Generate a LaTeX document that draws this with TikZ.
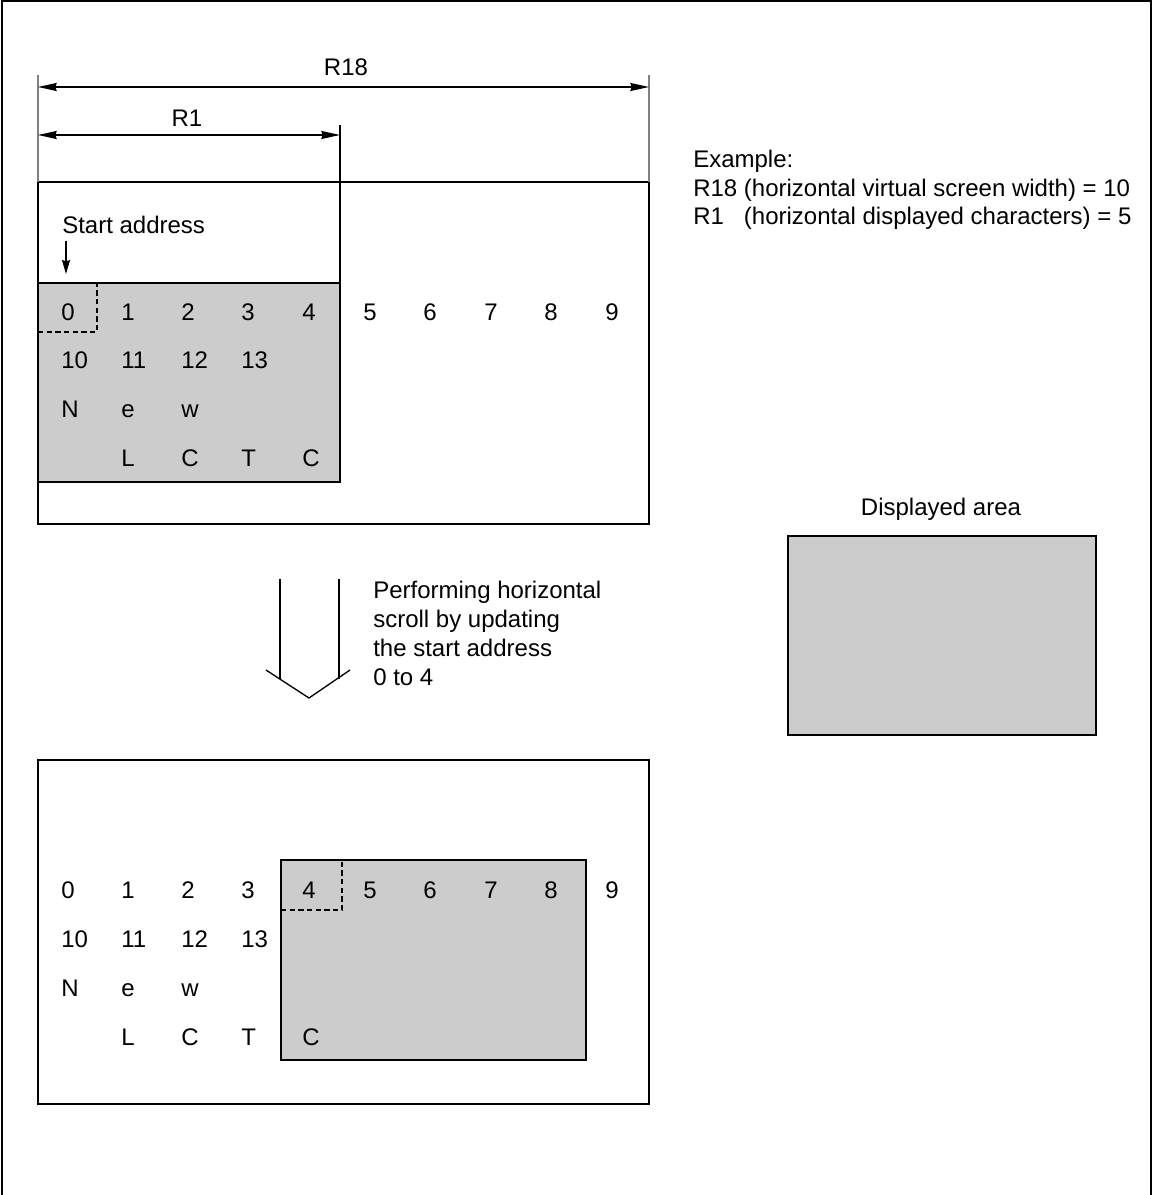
\documentclass[tikz,border=0pt]{standalone}
\usepackage{fontspec}
\setmainfont{Liberation Sans}
\usetikzlibrary{arrows.meta, positioning}
\colorlet{areagray}{black!20}

\begin{document}
\begin{tikzpicture}[x=0.75pt, y={(0pt,-0.75pt)},
  font=\fontsize{18}{21}\selectfont,
  frame/.style={line width=1pt, draw=black},
  extline/.style={line width=1.2pt, draw=black!50},
  dashline/.style={line width=1pt, dash pattern=on 4pt off 2.5pt},
  dimarrow/.style={line width=1pt, arrows={Stealth[length=14pt,width=6pt,inset=1pt]-Stealth[length=14pt,width=6pt,inset=1pt]}},
  ptrarrow/.style={line width=1pt, arrows={-Stealth[length=10.5pt,width=6pt,inset=1pt]}},
  cell/.style={anchor=base west, inner sep=0pt},
  txt/.style={anchor=base west, inner sep=0pt}]
  \useasboundingbox (0,0) rectangle (1158,1195);
  % outer frame, open at the bottom
  \draw[line width=1.6pt] (2,1195) -- (2,1) -- (1151,1) -- (1151,1195);

  % virtual screen before the scroll
  \draw[frame] (38,182) rectangle (649,524);
  \draw[frame, fill=areagray] (38,283) rectangle (340,482);
  \draw[dashline] (38,332) -| (97,283);
  \coordinate (ext18l) at (38,75);
  \coordinate (ext18r) at (649,75);
  \coordinate (ext1r) at (340,125);
  \draw[extline] (ext18l) -- (38,182);
  \draw[extline] (ext18r) -- (649,182);
  \draw[frame] (ext1r) -- (340,283);
  \coordinate (dim18l) at (38,87);
  \coordinate (dim18r) at (649,87);
  \coordinate (dim1l) at (38,135);
  \coordinate (dim1r) at (340,135);
  \draw[dimarrow] (dim18l) -- (dim18r);
  \draw[dimarrow] (dim1l) -- (dim1r);
  \node[anchor=base, inner sep=0pt] (r18) at (346,76) {R18};
  \node[anchor=base, inner sep=0pt] (r1) at (187,127) {R1};

  \node[txt] (start) at (62,233) {Start address};
  \coordinate (startptr) at (66,241);
  \coordinate (startend) at (66,274);
  \draw[ptrarrow] (startptr) -- (startend);

  \node[cell] (t0) at (61,320) {0};   \node[cell] (t1) at (121,320) {1};
  \node[cell] (t2) at (181,320) {2};  \node[cell] (t3) at (241,320) {3};
  \node[cell] (t4) at (302,320) {4};  \node[cell] (t5) at (363,320) {5};
  \node[cell] (t6) at (423,320) {6};  \node[cell] (t7) at (484,320) {7};
  \node[cell] (t8) at (544,320) {8};  \node[cell] (t9) at (605,320) {9};
  \node[cell] (t10) at (61,368) {10}; \node[cell] (t11) at (121,368) {11};
  \node[cell] (t12) at (181,368) {12};\node[cell] (t13) at (241,368) {13};
  \node[cell] (tN) at (61,417) {N};   \node[cell] (te) at (121,417) {e};
  \node[cell] (tw) at (181,417) {w};
  \node[cell] (tL) at (121,466) {L};  \node[cell] (tC) at (181,466) {C};
  \node[cell] (tT) at (241,466) {T};  \node[cell] (tC2) at (302,466) {C};

  % example values
  \node[txt] (ex1) at (693,168) {Example:};
  \node[txt] (ex2) at (693,196) {R18 (horizontal virtual screen width) = 10};
  \node[txt] (ex3) at (693,224) {R1\phantom{8} (horizontal displayed characters) = 5};

  % displayed area
  \node[anchor=base, inner sep=0pt] (disp) at (941,515) {Displayed area};
  \draw[frame, fill=areagray] (788,536) rectangle (1096,735);

  % hollow arrow and its note
  \draw[frame] (280,579) -- (280,679);
  \draw[frame] (339,579) -- (339,679);
  \draw[frame] (266,670) -- (309,698) -- (350,670);
  \node[txt] (perf1) at (373,598) {Performing horizontal};
  \node[txt] (perf2) at (373,627) {scroll by updating};
  \node[txt] (perf3) at (373,656) {the start address};
  \node[txt] (perf4) at (373,685) {0 to 4};

  % virtual screen after the scroll
  \draw[frame] (38,760) rectangle (649,1104);
  \draw[frame, fill=areagray] (281,860) rectangle (586,1060);
  \draw[dashline] (281,910) -| (342,860);

  \node[cell] (b0) at (61,898) {0};   \node[cell] (b1) at (121,898) {1};
  \node[cell] (b2) at (181,898) {2};  \node[cell] (b3) at (241,898) {3};
  \node[cell] (b4) at (302,898) {4};  \node[cell] (b5) at (363,898) {5};
  \node[cell] (b6) at (423,898) {6};  \node[cell] (b7) at (484,898) {7};
  \node[cell] (b8) at (544,898) {8};  \node[cell] (b9) at (605,898) {9};
  \node[cell] (b10) at (61,947) {10}; \node[cell] (b11) at (121,947) {11};
  \node[cell] (b12) at (181,947) {12};\node[cell] (b13) at (241,947) {13};
  \node[cell] (bN) at (61,996) {N};   \node[cell] (be) at (121,996) {e};
  \node[cell] (bw) at (181,996) {w};
  \node[cell] (bL) at (121,1045) {L}; \node[cell] (bC) at (181,1045) {C};
  \node[cell] (bT) at (241,1045) {T}; \node[cell] (bC2) at (302,1045) {C};
\end{tikzpicture}
\end{document}
